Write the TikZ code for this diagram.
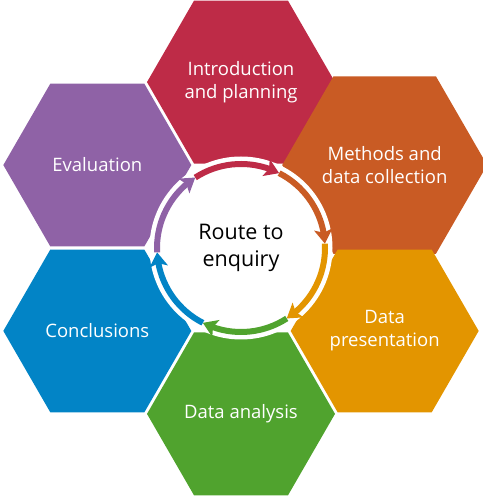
\documentclass[tikz,border=0pt]{standalone}
\usepackage{fontspec}
\setmainfont{Open Sans}
\usetikzlibrary{shapes.geometric,arrows.meta,bending,calc}
\definecolor{cIntro}{HTML}{BE2B47}
\definecolor{cMeth}{HTML}{C95B24}
\definecolor{cPres}{HTML}{E39500}
\definecolor{cAnal}{HTML}{50A32E}
\definecolor{cConc}{HTML}{0284C6}
\definecolor{cEval}{HTML}{8F62A6}
\begin{document}
\begin{tikzpicture}[x=1pt,y=1pt,
  hexa/.style={regular polygon, regular polygon sides=6, minimum size=188pt,
    inner sep=0pt, outer sep=0pt, fill=#1, text=white, align=center,
    font=\fontsize{18.5}{23}\selectfont},
  ringarrow/.style={line width=6pt, draw=#1,
    -{Stealth[length=14pt,width=18pt,inset=3pt]}}]
\useasboundingbox (0,0) rectangle (482,500);
\coordinate (C) at (241,252);
% hexagons
\node[hexa=cIntro] (intro) at ($(C)+(90:165.9)$) {Introduction\\and planning};
\node[hexa=cMeth] (meth) at ($(C)+(30:165.9)$) {Methods and\\data collection};
\node[hexa=cPres] (pres) at ($(C)+(-30:165.9)$) {Data\\presentation};
\node[hexa=cAnal] (anal) at ($(C)+(-90:165.9)$) {Data analysis};
\node[hexa=cConc] (conc) at ($(C)+(-150:165.9)$) {Conclusions};
\node[hexa=cEval] (eval) at ($(C)+(150:165.9)$) {Evaluation};
% centre disc
\node[circle, fill=white, minimum size=183pt, inner sep=0pt, align=center,
  font=\fontsize{21.5}{27}\selectfont] (route) at (C) {Route to\\enquiry};
% ring arrows
\foreach \t/\c in {90/cIntro, 30/cMeth, -30/cPres, -90/cAnal, -150/cConc, 150/cEval}{
  \draw[ringarrow=\c] ($(C)+(\t+33:84)$) arc[start angle=\t+33, end angle=\t-27, radius=84];
}
\end{tikzpicture}
\end{document}
